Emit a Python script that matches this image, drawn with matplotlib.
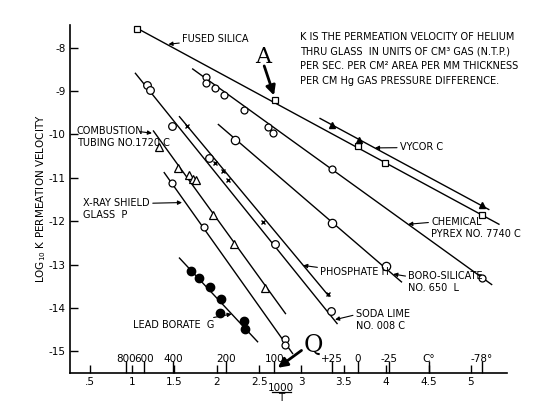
import matplotlib
matplotlib.use("Agg")
import matplotlib.pyplot as plt
from matplotlib.lines import Line2D

plt.rcParams['font.family'] = ['Liberation Sans Narrow', 'DejaVu Sans']

# ---------------- data (x = 1000/T, y = log10 K) ----------------
fused_x = [1.055, 2.684, 3.665, 3.99, 5.126]
fused_y = [-7.57, -9.21, -10.26, -10.65, -11.86]
fused_lx = [1.04, 5.33]
fused_ly = [-7.53, -12.07]

vycor_x = [3.358, 3.674, 5.126]
vycor_y = [-9.78, -10.13, -11.63]
vycor_lx = [3.219, 5.21]
vycor_ly = [-9.63, -11.73]

pyrex_x = [1.876, 1.876, 1.985, 2.086, 2.326, 2.608, 2.663, 3.358, 5.126]
pyrex_y = [-8.68, -8.82, -8.92, -9.09, -9.44, -9.82, -9.96, -10.80, -13.30]
pyrex_lx = [1.716, 5.244]
pyrex_ly = [-8.49, -13.46]

boro_x = [2.221, 3.358, 4.002]
boro_y = [-10.13, -12.04, -13.03]
boro_lx = [2.019, 4.18]
boro_ly = [-9.77, -13.40]

soda_x = [1.18, 1.215, 1.476, 1.905, 2.684, 3.35]
soda_y = [-8.85, -8.98, -9.81, -10.55, -12.53, -14.08]
soda_lx = [1.04, 3.42]
soda_ly = [-8.59, -14.36]

phos_x = [1.653, 1.98, 2.07, 2.13, 2.55, 3.316]
phos_y = [-9.81, -10.65, -10.84, -11.05, -12.02, -13.68]
phos_lx = [1.56, 3.324]
phos_ly = [-9.59, -13.73]

comb_x = [1.316, 1.547, 1.674, 1.716, 1.75, 1.956, 2.2, 2.566]
comb_y = [-10.28, -10.78, -10.94, -11.03, -11.05, -11.86, -12.52, -13.53]
comb_lx = [1.253, 2.811]
comb_ly = [-9.92, -14.13]

xray_x = [1.476, 1.85, 2.81, 2.81]
xray_y = [-11.13, -12.13, -14.71, -14.85]
xray_lx = [1.38, 2.895]
xray_ly = [-10.88, -15.05]

lead_x = [1.695, 1.792, 1.926, 2.053, 2.04, 2.322, 2.33]
lead_y = [-13.15, -13.30, -13.52, -13.80, -14.11, -14.31, -14.49]
lead_lx = [1.56, 2.482]
lead_ly = [-12.85, -14.78]

xticks = [0.5, 1, 1.5, 2, 2.5, 3, 3.5, 4, 4.5, 5]
xticklabels = ['.5', '1', '1.5', '2', '2.5', '3', '3.5', '4', '4.5', '5']
yticks = [-8, -9, -10, -11, -12, -13, -14, -15]
yticklabels = ['-8', '-9', '-10', '-11', '-12', '-13', '-14', '-15']
temps_c = [800, 600, 400, 200, 100, 25, 0, -25, -78]
temp_labels = ['800', '600', '400', '200', '100', '+25', '0', '-25', '-78°']
unit_pos = [4.5]
unit_labels = ['C°']

# ---------------- figure ----------------
fig = plt.figure(figsize=(5.59, 4.16), dpi=100)
ax = fig.add_axes([0.1252, 0.1034, 0.781, 0.8365])
ax.set_xlim(0.268, 5.42)
ax.set_ylim(-15.5, -7.476)

for s in ['top', 'right']:
    ax.spines[s].set_visible(False)
for s in ['left', 'bottom']:
    ax.spines[s].set_linewidth(1.2)

lw = 1.0
mk = dict(color='black', linestyle='none')
lines = [
    (fused_lx, fused_ly, fused_x, fused_y, dict(marker='s', mfc='white', mec='black', ms=4.5, mew=0.9)),
    (vycor_lx, vycor_ly, vycor_x, vycor_y, dict(marker='^', mfc='black', mec='black', ms=5)),
    (pyrex_lx, pyrex_ly, pyrex_x, pyrex_y, dict(marker='o', mfc='white', mec='black', ms=5, mew=0.9)),
    (boro_lx, boro_ly, boro_x, boro_y, dict(marker='o', mfc='white', mec='black', ms=6, mew=0.9)),
    (soda_lx, soda_ly, soda_x, soda_y, dict(marker='o', mfc='white', mec='black', ms=5.5, mew=0.9)),
    (phos_lx, phos_ly, phos_x, phos_y, dict(marker='x', mfc='black', mec='black', ms=3.5, mew=1.0)),
    (comb_lx, comb_ly, comb_x, comb_y, dict(marker='^', mfc='white', mec='black', ms=5.5, mew=0.9)),
    (xray_lx, xray_ly, xray_x, xray_y, dict(marker='o', mfc='white', mec='black', ms=5, mew=0.9)),
    (lead_lx, lead_ly, lead_x, lead_y, dict(marker='o', mfc='black', mec='black', ms=6)),
]
for lx, ly, px, py, st in lines:
    ax.plot(lx, ly, color='black', lw=lw, zorder=2)
    ax.plot(px, py, **mk, **st, zorder=3)

# ticks
ax.xaxis.remove_overlapping_locs = False
ax.set_xticks(xticks)
ax.set_xticklabels(xticklabels)
ax.set_yticks(yticks)
ax.set_yticklabels(yticklabels)
ax.tick_params(axis='both', which='major', direction='in', length=6, width=1.0,
               labelsize=7.5, pad=3)

temp_pos = [1000.0 / (t + 273.0) for t in temps_c] + unit_pos
ax.set_xticks(temp_pos, minor=True)
ax.set_xticklabels(temp_labels + unit_labels, minor=True)
ax.tick_params(axis='x', which='minor', direction='in', length=9, width=1.0,
               labelsize=7.5, pad=-13.5)

ax.set_ylabel('LOG$_{10}$ K PERMEATION VELOCITY', fontsize=7.5)
ax.yaxis.set_label_coords(-0.05, 0.5)

# x-axis label drawn as a stacked fraction 1000 / T
ax.text(0.484, -0.043, '1000', transform=ax.transAxes, fontsize=7.5,
        ha='center', va='center', clip_on=False)
ax.add_line(Line2D([0.462, 0.506], [-0.0555, -0.0555], transform=ax.transAxes,
                   color='black', lw=0.9, clip_on=False))
ax.text(0.484, -0.072, 'T', transform=ax.transAxes, fontsize=7.5,
        ha='center', va='center', clip_on=False)

# annotations
fs = 7
arrow = dict(arrowstyle='-|>', color='black', lw=0.8, mutation_scale=6, shrinkA=0, shrinkB=0)
ax.annotate('FUSED SILICA', xy=(1.43, -7.92), xytext=(1.59, -7.8), fontsize=fs,
            va='center', ha='left', arrowprops=arrow)
ax.annotate('VYCOR C', xy=(3.867, -10.31), xytext=(4.16, -10.3), fontsize=fs,
            va='center', ha='left', arrowprops=arrow)
ax.annotate('CHEMICAL\nPYREX NO. 7740 C', xy=(4.26, -12.07), xytext=(4.53, -12.15),
            fontsize=fs, va='center', ha='left', arrowprops=dict(arrow, relpos=(0, 0.75)))
ax.annotate('BORO-SILICATE\nNO. 650  L', xy=(4.083, -13.22), xytext=(4.26, -13.4),
            fontsize=fs, va='center', ha='left', arrowprops=dict(arrow, relpos=(0, 0.75)))
ax.annotate('PHOSPHATE H', xy=(3.02, -13.02), xytext=(3.22, -13.18), fontsize=fs,
            va='center', ha='left', arrowprops=arrow)
ax.annotate('SODA LIME\nNO. 008 C', xy=(3.396, -14.27), xytext=(3.64, -14.28),
            fontsize=fs, va='center', ha='left', arrowprops=dict(arrow, relpos=(0, 0.75)))
ax.annotate('LEAD BORATE  G', xy=(2.176, -14.14), xytext=(1.97, -14.4), fontsize=fs,
            va='center', ha='right', arrowprops=arrow)
ax.annotate('COMBUSTION\nTUBING NO.1720 C', xy=(1.235, -9.97), xytext=(0.347, -10.06),
            fontsize=fs, va='center', ha='left', arrowprops=dict(arrow, relpos=(0.68, 0.75)))
ax.annotate('X-RAY SHIELD\nGLASS  P', xy=(1.59, -11.57), xytext=(0.426, -11.72),
            fontsize=fs, va='center', ha='left', arrowprops=dict(arrow, relpos=(0.73, 0.75)))

ax.text(2.98, -7.63,
        'K IS THE PERMEATION VELOCITY OF HELIUM\n'
        'THRU GLASS  IN UNITS OF CM³ GAS (N.T.P.)\n'
        'PER SEC. PER CM² AREA PER MM THICKNESS\n'
        'PER CM Hg GAS PRESSURE DIFFERENCE.',
        fontsize=7.0, va='top', ha='left', linespacing=1.6)

big = dict(arrowstyle='-|>', color='black', lw=2.0, mutation_scale=14, shrinkA=0, shrinkB=0)
ax.text(2.55, -8.21, 'A', fontsize=16, family='DejaVu Serif', ha='center', va='center')
ax.annotate('', xy=(2.676, -9.1), xytext=(2.56, -8.42), arrowprops=big)
ax.text(3.14, -14.86, 'Q', fontsize=17, family='DejaVu Serif', ha='center', va='center')
ax.annotate('', xy=(2.72, -15.38), xytext=(3.0, -14.98), arrowprops=big)

fig.savefig('out.png', dpi=100)
